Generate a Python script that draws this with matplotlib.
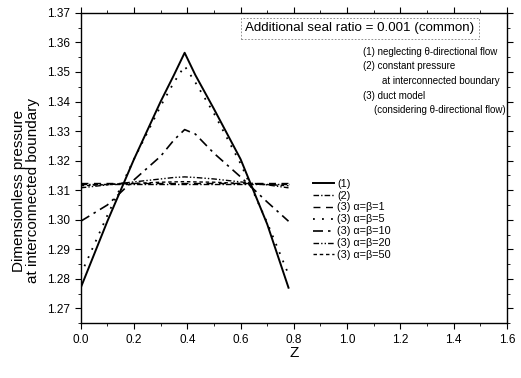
import matplotlib.pyplot as plt
from matplotlib.ticker import MultipleLocator

plt.rcParams['font.family'] = ['Liberation Sans', 'DejaVu Sans']

# axial position
z = [0.0, 0.1, 0.2, 0.3, 0.35, 0.39, 0.43, 0.5, 0.6, 0.7, 0.78]

# dimensionless pressure at interconnected boundary
p_neglect = [1.277, 1.2995, 1.3205, 1.340, 1.349, 1.3565, 1.349, 1.3375, 1.3205, 1.2985, 1.277]
p_const = [1.3121, 1.3121, 1.3121, 1.3121, 1.3121, 1.3121, 1.3121, 1.3121, 1.3121, 1.3121, 1.3121]
p_a1 = [1.3125, 1.3125, 1.3125, 1.3125, 1.3125, 1.3125, 1.3125, 1.3125, 1.3125, 1.3125, 1.3125]
p_a5 = [1.2815, 1.3015, 1.3205, 1.3385, 1.3465, 1.352, 1.3465, 1.336, 1.319, 1.299, 1.2815]
p_a10 = [1.2995, 1.305, 1.3135, 1.3215, 1.327, 1.3305, 1.329, 1.3225, 1.3145, 1.306, 1.2995]
p_a20 = [1.3108, 1.3118, 1.3128, 1.3138, 1.3143, 1.3145, 1.3143, 1.3138, 1.3128, 1.3118, 1.3108]
p_a50 = [1.3115, 1.3119, 1.3123, 1.3127, 1.3128, 1.3129, 1.3128, 1.3127, 1.3123, 1.3119, 1.3115]

labels = ['(1)', '(2)', '(3) \u03b1=\u03b2=1', '(3) \u03b1=\u03b2=5',
          '(3) \u03b1=\u03b2=10', '(3) \u03b1=\u03b2=20', '(3) \u03b1=\u03b2=50']

fig = plt.figure(figsize=(5.21, 3.78), dpi=100)
ax = fig.add_axes([0.155, 0.145, 0.818, 0.821])

ax.plot(z, p_neglect, color='black', lw=1.4, ls='-', label=labels[0])
ax.plot(z, p_const, color='black', lw=1.0, ls=(0, (4, 1.5, 1, 1.5)), label=labels[1])
ax.plot(z, p_a1, color='black', lw=1.0, ls=(0, (5, 4)), label=labels[2])
ax.plot(z, p_a5, color='black', lw=1.3, ls=(0, (1, 4)), label=labels[3])
ax.plot(z, p_a10, color='black', lw=1.2, ls=(0, (6, 3, 1.5, 3)), label=labels[4])
ax.plot(z, p_a20, color='black', lw=1.0, ls=(0, (4, 1.5, 1, 1.5, 1, 1.5)), label=labels[5])
ax.plot(z, p_a50, color='black', lw=1.0, ls=(0, (2.5, 2)), label=labels[6])

ax.set_xlim(0, 1.6)
ax.set_ylim(1.265, 1.37)
ax.xaxis.set_major_locator(MultipleLocator(0.2))
ax.xaxis.set_minor_locator(MultipleLocator(0.1))
ax.yaxis.set_major_locator(MultipleLocator(0.01))
ax.yaxis.set_minor_locator(MultipleLocator(0.005))
ax.set_xticklabels([f'{v:.1f}' for v in ax.get_xticks()])
ax.tick_params(which='both', direction='out', top=True, right=True, labelsize=8.5)
ax.tick_params(which='major', length=4)
ax.tick_params(which='minor', length=2)
for s in ax.spines.values():
    s.set_linewidth(1.0)

ax.set_xlabel('Z', fontsize=11, labelpad=0)
ax.set_ylabel('Dimensionless pressure\nat interconnected boundary', fontsize=11,
              linespacing=0.95)
ax.yaxis.set_label_coords(-0.096, 0.426)

ax.text(0.655, 0.95, 'Additional seal ratio = 0.001 (common)', transform=ax.transAxes,
        ha='center', va='center', fontsize=9.6,
        bbox=dict(boxstyle='square,pad=0.35', fc='white', ec='gray', ls=(0, (2, 2)), lw=0.6))

notes = [(0.662, 0.874, '(1) neglecting \u03b8-directional flow'),
         (0.662, 0.829, '(2) constant pressure'),
         (0.707, 0.781, 'at interconnected boundary'),
         (0.662, 0.732, '(3) duct model'),
         (0.688, 0.687, '(considering \u03b8-directional flow)')]
for x, y, t in notes:
    ax.text(x, y, t, transform=ax.transAxes, ha='left', va='center', fontsize=7.0)

ax.legend(loc='upper left', bbox_to_anchor=(0.535, 0.48), frameon=False, fontsize=7.8,
          handlelength=1.9, handletextpad=0.3, labelspacing=0.18, borderaxespad=0)

fig.savefig('out.png', dpi=100)
